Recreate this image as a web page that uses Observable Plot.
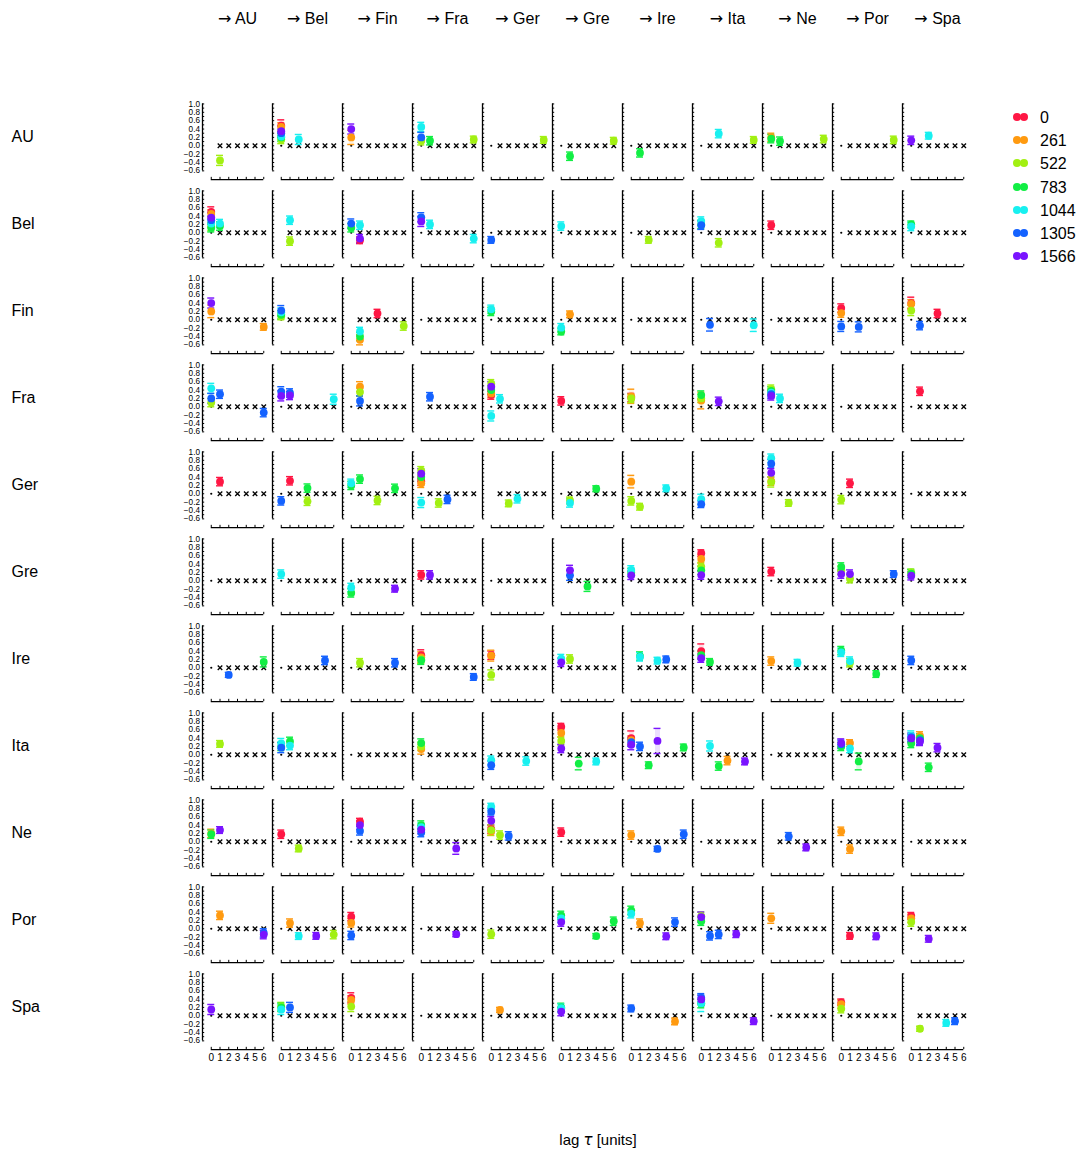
<!DOCTYPE html>
<html>
<head>
<meta charset="utf-8">
<script src="https://cdn.jsdelivr.net/npm/d3@7"></script>
<script src="https://cdn.jsdelivr.net/npm/@observablehq/plot@0.6"></script>
<style>
  html, body { margin: 0; padding: 0; background: #fff; }
  #wrap { position: relative; width: 1088px; height: 1156px; font-family: "Liberation Sans", Arial, sans-serif; }
  #chart { position: absolute; left: 0; top: 0; }
  .legend { position: absolute; left: 1010px; top: 106px; }
  .legend .item { position: relative; height: 23.2px; }
  .legend .dot { position: absolute; top: 7px; width: 8px; height: 8px; border-radius: 50%; }
  .legend .lab { position: absolute; left: 30px; top: 0; font-size: 16px; line-height: 23px; color: #000; }
  .xlabel { position: absolute; left: 0; width: 1196px; top: 1131px; text-align: center; font-size: 15px; }
</style>
</head>
<body>
<div id="wrap">
  <div id="chart"></div>
  <div class="legend" id="legend"></div>
  <div class="xlabel">lag <i style="font-family:'DejaVu Sans'">τ</i> [units]</div>
</div>
<script>
// ---- data ----
const countries = ["AU","Bel","Fin","Fra","Ger","Gre","Ire","Ita","Ne","Por","Spa"];
const windows = [0, 261, 522, 783, 1044, 1305, 1566];
const windowColors = ["#ff1744", "#ff9a10", "#a2f012", "#12ee44", "#18f0f0", "#1462ff", "#7a14ff"];
const lags = [0, 1, 2, 3, 4, 5, 6];
const yTickValues = [-0.6, -0.4, -0.2, 0.0, 0.2, 0.4, 0.6, 0.8, 1.0];

// [source, target, lag, window, value, error half-width]
const links = [
["AU","AU",1,522,-0.35,0.12],
["AU","Bel",0,0,0.48,0.14],["AU","Bel",0,261,0.45,0.1],["AU","Bel",0,522,0.15,0.1],["AU","Bel",0,783,0.2,0.1],["AU","Bel",0,1044,0.22,0.1],["AU","Bel",0,1305,0.3,0.1],["AU","Bel",0,1566,0.35,0.12],["AU","Bel",2,1044,0.15,0.12],
["AU","Fin",0,261,0.2,0.17],["AU","Fin",0,1566,0.4,0.12],
["AU","Fra",0,522,0.12,0.1],["AU","Fra",0,1044,0.45,0.11],["AU","Fra",0,1305,0.2,0.12],["AU","Fra",1,783,0.12,0.1],["AU","Fra",6,522,0.15,0.08],
["AU","Ger",6,522,0.14,0.08],
["AU","Gre",1,783,-0.25,0.1],["AU","Gre",6,522,0.12,0.08],
["AU","Ire",1,783,-0.17,0.1],
["AU","Ita",2,1044,0.29,0.1],["AU","Ita",6,522,0.14,0.08],
["AU","Ne",0,261,0.2,0.1],["AU","Ne",0,783,0.17,0.1],["AU","Ne",1,783,0.11,0.1],["AU","Ne",6,522,0.16,0.09],
["AU","Por",6,522,0.14,0.09],
["AU","Spa",0,1566,0.13,0.1],["AU","Spa",2,1044,0.24,0.08],

["Bel","AU",0,0,0.5,0.12],["Bel","AU",0,261,0.45,0.1],["Bel","AU",0,522,0.15,0.1],["Bel","AU",0,783,0.12,0.1],["Bel","AU",0,1044,0.22,0.1],["Bel","AU",0,1305,0.3,0.1],["Bel","AU",0,1566,0.36,0.12],["Bel","AU",1,783,0.16,0.1],["Bel","AU",1,1044,0.22,0.1],
["Bel","Bel",1,1044,0.3,0.1],["Bel","Bel",1,522,-0.2,0.1],
["Bel","Fin",0,783,0.12,0.1],["Bel","Fin",0,1305,0.22,0.11],["Bel","Fin",1,0,-0.18,0.08],["Bel","Fin",1,1044,0.18,0.1],["Bel","Fin",1,1566,-0.14,0.1],
["Bel","Fra",0,1305,0.37,0.11],["Bel","Fra",0,1566,0.27,0.12],["Bel","Fra",1,1044,0.2,0.1],["Bel","Fra",6,1044,-0.14,0.1],
["Bel","Ger",0,1305,-0.17,0.08],
["Bel","Gre",0,1044,0.16,0.1],
["Bel","Ire",2,522,-0.17,0.08],
["Bel","Ita",0,783,0.2,0.1],["Bel","Ita",0,1044,0.28,0.1],["Bel","Ita",0,1305,0.18,0.1],["Bel","Ita",2,522,-0.24,0.1],
["Bel","Ne",0,0,0.18,0.1],
["Bel","Spa",0,783,0.2,0.08],["Bel","Spa",0,1044,0.15,0.1],

["Fin","AU",0,261,0.2,0.15],["Fin","AU",0,1566,0.4,0.12],["Fin","AU",6,261,-0.17,0.08],
["Fin","Bel",0,522,0.08,0.08],["Fin","Bel",0,783,0.12,0.1],["Fin","Bel",0,1044,0.18,0.1],["Fin","Bel",0,1305,0.22,0.12],
["Fin","Fin",1,261,-0.48,0.12],["Fin","Fin",1,783,-0.4,0.1],["Fin","Fin",1,1044,-0.28,0.1],["Fin","Fin",3,0,0.15,0.1],["Fin","Fin",6,522,-0.15,0.1],
["Fin","Ger",0,783,0.2,0.1],["Fin","Ger",0,1044,0.25,0.1],
["Fin","Gre",0,783,-0.28,0.08],["Fin","Gre",0,1044,-0.19,0.1],["Fin","Gre",1,261,0.13,0.08],
["Fin","Ita",1,1305,-0.12,0.15],["Fin","Ita",6,1044,-0.13,0.15],
["Fin","Por",0,0,0.28,0.1],["Fin","Por",0,261,0.16,0.1],["Fin","Por",0,1305,-0.16,0.12],["Fin","Por",2,1305,-0.17,0.12],
["Fin","Spa",0,0,0.4,0.14],["Fin","Spa",0,261,0.38,0.1],["Fin","Spa",0,522,0.22,0.12],["Fin","Spa",1,1305,-0.14,0.1],["Fin","Spa",3,0,0.15,0.1],

["Fra","AU",0,522,0.1,0.1],["Fra","AU",0,1044,0.44,0.12],["Fra","AU",0,1305,0.2,0.12],["Fra","AU",1,1305,0.3,0.1],["Fra","AU",6,1305,-0.14,0.1],
["Fra","Bel",0,1305,0.36,0.12],["Fra","Bel",0,1566,0.26,0.12],["Fra","Bel",1,1305,0.33,0.1],["Fra","Bel",1,1566,0.27,0.1],["Fra","Bel",6,1044,0.18,0.12],
["Fra","Fin",1,261,0.48,0.12],["Fra","Fin",1,522,0.35,0.1],["Fra","Fin",1,1305,0.14,0.12],
["Fra","Fra",1,1305,0.24,0.1],
["Fra","Ger",0,0,0.28,0.1],["Fra","Ger",0,261,0.32,0.1],["Fra","Ger",0,522,0.55,0.1],["Fra","Ger",0,783,0.4,0.1],["Fra","Ger",0,1044,-0.22,0.12],["Fra","Ger",0,1566,0.48,0.12],["Fra","Ger",1,1044,0.19,0.1],
["Fra","Gre",0,0,0.14,0.1],
["Fra","Ire",0,0,0.22,0.1],["Fra","Ire",0,261,0.25,0.17],["Fra","Ire",0,522,0.2,0.1],
["Fra","Ita",0,261,0.15,0.2],["Fra","Ita",0,522,0.2,0.1],["Fra","Ita",0,783,0.28,0.1],["Fra","Ita",2,1566,0.13,0.1],
["Fra","Ne",0,522,0.42,0.1],["Fra","Ne",0,783,0.38,0.1],["Fra","Ne",0,1044,0.34,0.1],["Fra","Ne",0,1305,0.3,0.1],["Fra","Ne",0,1566,0.26,0.1],["Fra","Ne",1,1044,0.2,0.1],
["Fra","Spa",1,0,0.37,0.1],

["Ger","AU",1,0,0.29,0.1],
["Ger","Bel",0,1305,-0.17,0.1],["Ger","Bel",1,0,0.31,0.1],["Ger","Bel",3,522,-0.18,0.1],["Ger","Bel",3,783,0.135,0.1],
["Ger","Fin",0,783,0.2,0.1],["Ger","Fin",0,1044,0.25,0.1],["Ger","Fin",1,783,0.35,0.1],["Ger","Fin",3,522,-0.16,0.1],["Ger","Fin",5,783,0.13,0.1],
["Ger","Fra",0,0,0.3,0.1],["Ger","Fra",0,261,0.25,0.1],["Ger","Fra",0,522,0.55,0.1],["Ger","Fra",0,783,0.4,0.1],["Ger","Fra",0,1044,-0.21,0.12],["Ger","Fra",0,1566,0.48,0.12],["Ger","Fra",2,522,-0.22,0.1],["Ger","Fra",3,1305,-0.135,0.1],
["Ger","Ger",2,522,-0.23,0.08],["Ger","Ger",3,1044,-0.12,0.1],
["Ger","Gre",1,522,-0.16,0.08],["Ger","Gre",1,1044,-0.22,0.1],["Ger","Gre",4,783,0.12,0.07],
["Ger","Ire",0,261,0.29,0.15],["Ger","Ire",0,522,-0.17,0.1],["Ger","Ire",1,522,-0.31,0.08],["Ger","Ire",4,1044,0.13,0.08],
["Ger","Ita",0,1044,-0.13,0.12],["Ger","Ita",0,1305,-0.25,0.08],
["Ger","Ne",0,261,0.3,0.1],["Ger","Ne",0,522,0.28,0.12],["Ger","Ne",0,1044,0.85,0.1],["Ger","Ne",0,1305,0.72,0.1],["Ger","Ne",0,1566,0.5,0.1],["Ger","Ne",2,522,-0.22,0.08],
["Ger","Por",0,522,-0.14,0.1],["Ger","Por",1,0,0.25,0.1],

["Gre","Bel",0,1044,0.16,0.1],
["Gre","Fin",0,783,-0.29,0.1],["Gre","Fin",0,1044,-0.16,0.1],["Gre","Fin",5,1566,-0.19,0.08],
["Gre","Fra",0,0,0.14,0.1],["Gre","Fra",1,1566,0.14,0.1],
["Gre","Gre",1,1305,0.13,0.12],["Gre","Gre",1,1566,0.25,0.12],["Gre","Gre",3,783,-0.135,0.12],
["Gre","Ire",0,783,0.2,0.1],["Gre","Ire",0,1044,0.26,0.1],["Gre","Ire",0,1566,0.13,0.1],
["Gre","Ita",0,0,0.66,0.08],["Gre","Ita",0,261,0.52,0.1],["Gre","Ita",0,522,0.34,0.1],["Gre","Ita",0,783,0.25,0.1],["Gre","Ita",0,1566,0.135,0.1],
["Gre","Ne",0,0,0.22,0.1],
["Gre","Por",0,522,0.25,0.1],["Gre","Por",0,783,0.33,0.1],["Gre","Por",0,1566,0.16,0.1],["Gre","Por",1,522,0.05,0.1],["Gre","Por",1,1566,0.16,0.1],["Gre","Por",6,1305,0.16,0.08],
["Gre","Spa",0,522,0.2,0.08],["Gre","Spa",0,783,0.17,0.1],["Gre","Spa",0,1566,0.12,0.1],

["Ire","AU",2,1305,-0.17,0.06],["Ire","AU",6,783,0.14,0.12],
["Ire","Bel",5,1305,0.175,0.1],
["Ire","Fin",1,522,0.12,0.1],["Ire","Fin",5,1305,0.12,0.1],
["Ire","Fra",0,0,0.3,0.13],["Ire","Fra",0,261,0.25,0.13],["Ire","Fra",0,522,0.2,0.1],["Ire","Fra",0,783,0.18,0.1],["Ire","Fra",6,1305,-0.22,0.08],
["Ire","Ger",0,0,0.3,0.1],["Ire","Ger",0,261,0.29,0.13],["Ire","Ger",0,522,-0.17,0.12],
["Ire","Gre",0,1044,0.22,0.1],["Ire","Gre",0,1566,0.13,0.1],["Ire","Gre",1,522,0.21,0.1],
["Ire","Ire",1,783,0.28,0.1],["Ire","Ire",1,1044,0.26,0.1],["Ire","Ire",3,1044,0.17,0.08],["Ire","Ire",4,1305,0.2,0.08],
["Ire","Ita",0,0,0.4,0.17],["Ire","Ita",0,783,0.3,0.1],["Ire","Ita",0,1566,0.23,0.1],["Ire","Ita",1,783,0.14,0.08],
["Ire","Ne",0,261,0.16,0.1],["Ire","Ne",3,1044,0.12,0.08],
["Ire","Por",0,783,0.41,0.1],["Ire","Por",0,1044,0.37,0.1],["Ire","Por",1,522,0.12,0.1],["Ire","Por",1,1044,0.16,0.1],["Ire","Por",4,783,-0.15,0.08],
["Ire","Spa",0,1305,0.175,0.1],

["Ita","AU",1,522,0.26,0.08],
["Ita","Bel",0,783,0.2,0.1],["Ita","Bel",0,1044,0.27,0.12],["Ita","Bel",0,1305,0.17,0.12],["Ita","Bel",1,783,0.32,0.1],["Ita","Bel",1,1044,0.22,0.1],
["Ita","Fra",0,261,0.135,0.12],["Ita","Fra",0,522,0.2,0.1],["Ita","Fra",0,783,0.28,0.1],
["Ita","Ger",0,1044,-0.13,0.1],["Ita","Ger",0,1305,-0.25,0.1],["Ita","Ger",4,1044,-0.15,0.1],
["Ita","Gre",0,0,0.67,0.08],["Ita","Gre",0,261,0.52,0.1],["Ita","Gre",0,522,0.33,0.1],["Ita","Gre",0,1566,0.15,0.1],["Ita","Gre",2,783,-0.21,0.15],["Ita","Gre",4,1044,-0.16,0.08],
["Ita","Ire",0,0,0.4,0.17],["Ita","Ire",0,261,0.35,0.1],["Ita","Ire",0,1305,0.3,0.1],["Ita","Ire",0,1566,0.24,0.12],["Ita","Ire",1,1305,0.2,0.1],["Ita","Ire",2,783,-0.25,0.08],["Ita","Ire",3,1566,0.33,0.3],["Ita","Ire",6,783,0.175,0.08],
["Ita","Ita",1,1044,0.21,0.12],["Ita","Ita",2,783,-0.27,0.1],["Ita","Ita",3,261,-0.14,0.1],["Ita","Ita",5,1566,-0.16,0.08],
["Ita","Por",0,783,0.2,0.1],["Ita","Por",0,1305,0.25,0.1],["Ita","Por",0,1566,0.28,0.1],["Ita","Por",1,261,0.28,0.08],["Ita","Por",1,1044,0.15,0.1],["Ita","Por",2,783,-0.16,0.2],
["Ita","Spa",0,783,0.27,0.1],["Ita","Spa",0,1044,0.45,0.12],["Ita","Spa",0,1305,0.42,0.1],["Ita","Spa",0,1566,0.39,0.1],["Ita","Spa",1,261,0.45,0.1],["Ita","Spa",1,783,0.4,0.1],["Ita","Spa",1,1305,0.35,0.1],["Ita","Spa",1,1566,0.32,0.1],["Ita","Spa",2,783,-0.3,0.1],["Ita","Spa",3,1566,0.17,0.1],

["Ne","AU",0,261,0.2,0.1],["Ne","AU",0,783,0.18,0.1],["Ne","AU",1,1566,0.28,0.08],
["Ne","Bel",0,0,0.18,0.1],["Ne","Bel",2,522,-0.16,0.08],
["Ne","Fin",1,0,0.48,0.08],["Ne","Fin",1,1305,0.26,0.1],["Ne","Fin",1,1566,0.4,0.1],
["Ne","Fra",0,783,0.4,0.1],["Ne","Fra",0,1044,0.35,0.1],["Ne","Fra",0,1305,0.22,0.1],["Ne","Fra",0,1566,0.29,0.1],["Ne","Fra",4,1566,-0.16,0.14],
["Ne","Ger",0,0,0.3,0.1],["Ne","Ger",0,261,0.25,0.1],["Ne","Ger",0,522,0.28,0.12],["Ne","Ger",0,1044,0.84,0.08],["Ne","Ger",0,1305,0.72,0.08],["Ne","Ger",0,1566,0.5,0.1],["Ne","Ger",1,522,0.16,0.1],["Ne","Ger",2,1305,0.14,0.1],
["Ne","Gre",0,0,0.23,0.1],
["Ne","Ire",0,261,0.16,0.1],["Ne","Ire",3,1305,-0.17,0.06],["Ne","Ire",6,1305,0.18,0.1],
["Ne","Ne",2,1305,0.13,0.09],["Ne","Ne",4,1566,-0.135,0.08],
["Ne","Por",0,261,0.25,0.1],["Ne","Por",1,261,-0.175,0.1],

["Por","AU",1,261,0.32,0.1],["Por","AU",6,1305,-0.1,0.1],["Por","AU",6,1566,-0.14,0.1],
["Por","Bel",1,261,0.135,0.1],["Por","Bel",2,1044,-0.175,0.08],["Por","Bel",4,1566,-0.17,0.08],["Por","Bel",6,522,-0.14,0.1],
["Por","Fin",0,0,0.29,0.1],["Por","Fin",0,261,0.14,0.1],["Por","Fin",0,1305,-0.16,0.1],
["Por","Fra",4,1566,-0.13,0.06],
["Por","Ger",0,522,-0.13,0.1],
["Por","Gre",0,783,0.32,0.1],["Por","Gre",0,1044,0.25,0.1],["Por","Gre",0,1566,0.16,0.1],["Por","Gre",4,783,-0.175,0.06],["Por","Gre",6,783,0.18,0.1],
["Por","Ire",0,783,0.44,0.1],["Por","Ire",0,1044,0.36,0.1],["Por","Ire",1,261,0.135,0.1],["Por","Ire",4,1566,-0.18,0.08],["Por","Ire",5,1305,0.16,0.1],
["Por","Ita",0,522,0.3,0.1],["Por","Ita",0,783,0.18,0.1],["Por","Ita",0,1566,0.28,0.12],["Por","Ita",1,1305,-0.17,0.1],["Por","Ita",2,1305,-0.135,0.1],["Por","Ita",4,1566,-0.13,0.08],
["Por","Ne",0,261,0.25,0.12],
["Por","Por",1,0,-0.17,0.08],["Por","Por",4,1566,-0.18,0.08],
["Por","Spa",0,0,0.31,0.08],["Por","Spa",0,261,0.25,0.1],["Por","Spa",0,522,0.16,0.1],["Por","Spa",2,1566,-0.24,0.08],

["Spa","AU",0,1566,0.15,0.12],
["Spa","Bel",0,522,0.22,0.1],["Spa","Bel",0,783,0.2,0.1],["Spa","Bel",0,1044,0.15,0.12],["Spa","Bel",1,1305,0.2,0.12],
["Spa","Fin",0,0,0.43,0.12],["Spa","Fin",0,261,0.38,0.1],["Spa","Fin",0,522,0.22,0.12],
["Spa","Ger",1,261,0.14,0.06],
["Spa","Gre",0,783,0.2,0.1],["Spa","Gre",0,1044,0.18,0.1],["Spa","Gre",0,1566,0.1,0.1],
["Spa","Ire",0,1305,0.175,0.08],["Spa","Ire",5,261,-0.135,0.08],
["Spa","Ita",0,783,0.29,0.1],["Spa","Ita",0,1044,0.3,0.2],["Spa","Ita",0,1305,0.43,0.1],["Spa","Ita",0,1566,0.39,0.1],["Spa","Ita",6,1566,-0.13,0.08],
["Spa","Por",0,0,0.32,0.08],["Spa","Por",0,261,0.28,0.1],["Spa","Por",0,522,0.17,0.1],
["Spa","Spa",1,522,-0.31,0.06],["Spa","Spa",4,1044,-0.17,0.08],["Spa","Spa",5,1305,-0.13,0.08]
];

// ---- build ----
const points = d3.sort(
  links.map(([src, tgt, lag, win, val, err]) => ({src, tgt, lag, win, val, err})),
  d => windows.indexOf(d.win)
);
const zeroMarks = d3.cross(countries, countries, lags)
  .map(([src, tgt, lag]) => ({src, tgt, lag}))
  .filter(d => !(d.src === d.tgt && d.lag === 0));
const yMinorTicks = d3.range(-6, 11).map(i => i / 10);
const yLabelData = d3.cross(countries, yTickValues).map(([src, v]) => ({src, v}));
const xLabelData = d3.cross(countries, lags).map(([tgt, lag]) => ({tgt, lag}));
const fmt = d3.format(".1f");
const AXIS_Y = -0.81;
const FONT = "Liberation Sans, Arial, sans-serif";

const chart = Plot.plot({
  width: 1088,
  height: 1156,
  marginLeft: 199,
  marginRight: 113.5,
  marginTop: 97.7,
  marginBottom: 100.2,
  style: {fontFamily: FONT, background: "white", overflow: "visible"},
  fx: {domain: countries, padding: 0, axis: null},
  fy: {domain: countries, padding: 0, axis: null},
  x: {domain: [-1, 7], axis: null},
  y: {domain: [-0.95, 1.13], axis: null},
  color: {type: "ordinal", domain: windows, range: windowColors},
  marks: [
    // y spine + ticks (every panel)
    Plot.ruleX([-1], {x: d => d, y1: -0.6, y2: 1.0, stroke: "#000", strokeWidth: 1.3}),
    Plot.ruleY(yMinorTicks, {y: d => d, x1: -1, x2: -0.75, stroke: "#000", strokeWidth: 1}),
    // x spine + ticks
    Plot.ruleY([AXIS_Y], {y: d => d, x1: 0, x2: 6, stroke: "#000", strokeWidth: 1.3}),
    Plot.ruleX(lags, {x: d => d, y1: AXIS_Y, y2: AXIS_Y + 0.055, stroke: "#000", strokeWidth: 1}),
    // y tick labels (first column)
    Plot.text(yLabelData, {fx: () => "AU", fy: d => d.src, x: -1, y: d => d.v, text: d => fmt(d.v),
      textAnchor: "end", dx: -2.5, fontSize: 8.2, fill: "#000"}),
    // x tick labels (bottom row)
    Plot.text(xLabelData, {fx: d => d.tgt, fy: () => "Spa", x: d => d.lag, y: AXIS_Y, text: d => String(d.lag),
      dy: 8.5, fontSize: 10, fill: "#000"}),
    // zero markers
    Plot.dot(zeroMarks.filter(d => d.lag === 0), {fx: "tgt", fy: "src", x: "lag", y: 0, r: 1.1, fill: "#000", stroke: null}),
    Plot.dot(zeroMarks.filter(d => d.lag > 0), {fx: "tgt", fy: "src", x: "lag", y: 0, symbol: "times", r: 2.2, stroke: "#000", strokeWidth: 1.3}),
    // error bars
    Plot.ruleX(points, {fx: "tgt", fy: "src", x: "lag", y1: d => d.val - d.err, y2: d => d.val + d.err,
      stroke: "win", strokeWidth: 5, strokeOpacity: 0.14}),
    Plot.ruleY(points, {fx: "tgt", fy: "src", y: d => d.val - d.err, x1: d => d.lag - 0.4, x2: d => d.lag + 0.4,
      stroke: "win", strokeWidth: 1.4}),
    Plot.ruleY(points, {fx: "tgt", fy: "src", y: d => d.val + d.err, x1: d => d.lag - 0.4, x2: d => d.lag + 0.4,
      stroke: "win", strokeWidth: 1.4}),
    // points
    Plot.dot(points, {fx: "tgt", fy: "src", x: "lag", y: "val", fill: "win", r: 3.9, stroke: null}),
    // column headers
    Plot.text(countries, {fx: d => d, fy: () => "AU", frameAnchor: "top", lineAnchor: "middle",
      text: d => "→ " + d, dy: -80, fontSize: 16, fill: "#000"}),
    // row labels
    Plot.text(countries, {fx: () => "AU", fy: d => d, frameAnchor: "left", textAnchor: "start",
      text: d => d, dx: -191, dy: -5, fontSize: 16, fill: "#000"})
  ]
});
document.getElementById("chart").appendChild(chart);

// render the arrow glyph of the column headers with a wider font
d3.select(chart).selectAll("text").each(function() {
  const t = this.textContent;
  if (t.startsWith("→ ")) {
    const sel = d3.select(this);
    sel.text(null);
    sel.append("tspan").style("font-family", "DejaVu Sans").text("→");
    sel.append("tspan").text(" " + t.slice(2));
  }
});

// legend
const legend = d3.select("#legend");
windows.forEach((w, i) => {
  const item = legend.append("div").attr("class", "item");
  item.append("div").attr("class", "dot").style("left", "3px").style("background", windowColors[i]);
  item.append("div").attr("class", "dot").style("left", "10px").style("background", windowColors[i]);
  item.append("div").attr("class", "lab").text(String(w));
});
</script>
</body>
</html>
